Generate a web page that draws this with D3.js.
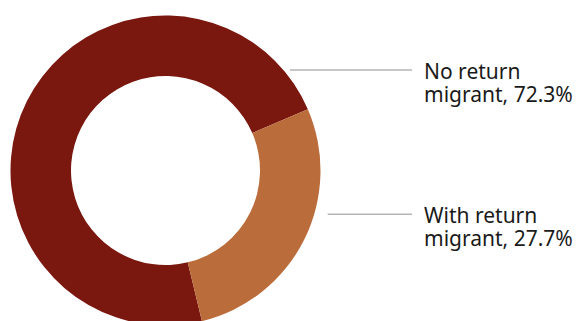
<!DOCTYPE html>
<html>
<head>
<meta charset="utf-8">
<script src="https://cdn.jsdelivr.net/npm/d3@7"></script>
<style>
  html, body { margin: 0; padding: 0; background: #fff; }
  svg { display: block; }
</style>
</head>
<body>
<svg id="chart" width="585" height="321"></svg>
<script>
// Share of households by return-migrant status
const categories = ["No return migrant", "With return migrant"];
const shares = [72.3, 27.7];
const labelLines = [["No return", "migrant, 72.3%"], ["With return", "migrant, 27.7%"]];
const colors = ["#7a170f", "#bb6c3b"];

const svg = d3.select("#chart");
const cx = 165.5, cy = 170.5, outerR = 155, innerR = 94.5;

const pie = d3.pie()
  .sort(null)
  .value(d => d)
  .startAngle(166.4 * Math.PI / 180)
  .endAngle(166.4 * Math.PI / 180 + 2 * Math.PI);

const arc = d3.arc().innerRadius(innerR).outerRadius(outerR);

const g = svg.append("g").attr("transform", `translate(${cx},${cy})`);
const arcs = pie(shares);

g.selectAll("path")
  .data(arcs)
  .join("path")
  .attr("d", arc)
  .attr("fill", (d, i) => colors[i]);

// Leader lines and two-line labels to the right of the ring
const labelX = 424;
const lineY = [70, 214.3];
const lineStart = [290, 327.7];
const lineEnd = 412;
const lineGap = 23;

categories.forEach((c, i) => {
  svg.append("line")
    .attr("x1", lineStart[i]).attr("x2", lineEnd)
    .attr("y1", lineY[i]).attr("y2", lineY[i])
    .attr("stroke", "#b5b5b5")
    .attr("stroke-width", 1.5);

  labelLines[i].forEach((line, j) => {
    svg.append("text")
      .attr("x", labelX)
      .attr("y", lineY[i] + 9 + j * lineGap)
      .attr("fill", "#1a1a1a")
      .style("font-family", "'Noto Sans', sans-serif")
      .style("font-size", "21px")
      .text(line);
  });
});
</script>
</body>
</html>
